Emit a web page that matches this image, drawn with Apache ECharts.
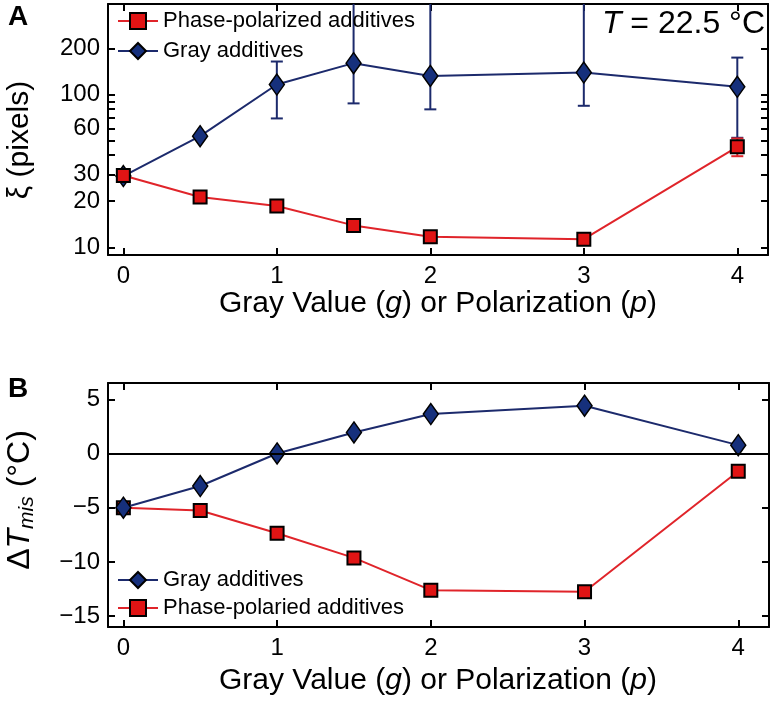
<!DOCTYPE html>
<html>
<head>
<meta charset="utf-8">
<script src="https://cdn.jsdelivr.net/npm/echarts@6/dist/echarts.min.js"></script>
<style>
html,body{margin:0;padding:0;background:#fff;}
#c{width:774px;height:709px;}
</style>
</head>
<body>
<div id="c"></div>
<script>
// ---- Data ----
const xValues = [0, 0.5, 1, 1.5, 2, 3, 4];
// Panel A: correlation length xi (pixels), log scale
const xiPhase = [29.5, 21.3, 18.6, 13.9, 11.7, 11.3, 45.4];
const xiGray = [29.2, 53.3, 116, 160, 132, 139, 112];
// error bars (low, high); null = none
const xiGrayErrLow = [null, null, 69.6, 87.3, 79.8, 84.2, 52];
const xiGrayErrHigh = [null, null, 164, 1000, 1000, 1000, 174];
const xiPhaseErrLow = [null, null, null, null, null, null, 39.4];
const xiPhaseErrHigh = [null, null, null, null, null, null, 51.5];
// Panel B: Delta T_mis (°C)
const dtGray = [-5.0, -3.0, 0.0, 1.94, 3.64, 4.41, 0.77];
const dtPhase = [-5.0, -5.25, -7.35, -9.63, -12.6, -12.75, -1.64];
// Ticks
const xTicks = [0, 1, 2, 3, 4];
const yTicksA = [10, 20, 30, 40, 50, 60, 70, 80, 90, 100, 200];
const yLabelsA = [10, 20, 30, 60, 100, 200];
const yTicksB = [-15, -10, -5, 0, 5];

const BLUE_LINE = '#1c2a6c';
const BLUE_FILL = '#16307c';
const RED_LINE = '#e0242a';
const RED_FILL = '#e01414';
const FONT = 'Liberation Sans, Arial, sans-serif';

const pair = (xs, ys) => xs.map((x, i) => [x, ys[i]]);
const errData = (xs, lo, hi) => xs.map((x, i) => [x, lo[i], hi[i]]).filter(d => d[1] != null);

function errRender(color) {
  return function (params, api) {
    const x = api.value(0), lo = api.value(1), hi = api.value(2);
    const pLo = api.coord([x, lo]);
    const pHi = api.coord([x, hi]);
    const cap = 6;
    const style = { stroke: color, lineWidth: 2, fill: null };
    return {
      type: 'group',
      children: [
        { type: 'line', shape: { x1: pLo[0], y1: pLo[1], x2: pHi[0], y2: pHi[1] }, style },
        { type: 'line', shape: { x1: pLo[0] - cap, y1: pLo[1], x2: pLo[0] + cap, y2: pLo[1] }, style },
        { type: 'line', shape: { x1: pHi[0] - cap, y1: pHi[1], x2: pHi[0] + cap, y2: pHi[1] }, style }
      ]
    };
  };
}

const axisLine = { show: true, onZero: false, lineStyle: { color: '#000', width: 2 } };
const tick = (vals) => ({ show: true, inside: true, length: 7, customValues: vals, lineStyle: { color: '#000', width: 2 } });
const labelStyle = { color: '#000', fontSize: 24, fontFamily: FONT };

const gridA = { left: 108, right: 6, top: 4, height: 251 };
const gridB = { left: 108, right: 5, top: 383, height: 244 };

const xAxisBase = (gi, pos, showLabel) => ({
  type: 'value', gridIndex: gi, position: pos, min: -0.1, max: 4.2,
  axisLine, axisTick: tick(xTicks), splitLine: { show: false },
  axisLabel: Object.assign({ show: showLabel, margin: 9, customValues: xTicks }, labelStyle)
});

const symbolSquare = { symbol: 'rect', symbolSize: 13, itemStyle: { color: RED_FILL, borderColor: '#000', borderWidth: 2 } };
const symbolDiamond = { symbol: 'diamond', symbolSize: [15, 21], itemStyle: { color: BLUE_FILL, borderColor: '#000', borderWidth: 1.5 } };

const legendText = { fontSize: 22, color: '#000', fontFamily: FONT, lineHeight: 22 };

const option = {
  animation: false,
  backgroundColor: '#fff',
  textStyle: { fontFamily: FONT },
  grid: [gridA, gridB],
  xAxis: [
    xAxisBase(0, 'bottom', true),
    xAxisBase(0, 'top', false),
    xAxisBase(1, 'bottom', true),
    xAxisBase(1, 'top', false)
  ],
  yAxis: [
    { type: 'log', gridIndex: 0, position: 'left', min: 8.9, max: 390, logBase: 10,
      axisLine, axisTick: tick(yTicksA), splitLine: { show: false }, minorTick: { show: false },
      axisLabel: Object.assign({ margin: 8, customValues: yLabelsA }, labelStyle) },
    { type: 'log', gridIndex: 0, position: 'right', min: 8.9, max: 390, logBase: 10,
      axisLine, axisTick: tick(yTicksA), splitLine: { show: false },
      axisLabel: { show: false } },
    { type: 'value', gridIndex: 1, position: 'left', min: -16, max: 6.5,
      axisLine, axisTick: tick(yTicksB), splitLine: { show: false },
      axisLabel: Object.assign({ margin: 8, customValues: yTicksB, formatter: v => String(v).replace('-', '\u2212') }, labelStyle) },
    { type: 'value', gridIndex: 1, position: 'right', min: -16, max: 6.5,
      axisLine, axisTick: tick(yTicksB), splitLine: { show: false },
      axisLabel: { show: false } }
  ],
  legend: [
    { left: 112, top: 5, orient: 'vertical', itemWidth: 40, itemHeight: 20, itemGap: 8,
      data: ['Phase-polarized additives', 'Gray additives'],
      textStyle: legendText, selectedMode: false },
    { left: 112, top: 564, orient: 'vertical', itemWidth: 40, itemHeight: 20, itemGap: 6,
      data: ['Gray additives', 'Phase-polaried additives'],
      textStyle: legendText, selectedMode: false }
  ],
  series: [
    { type: 'custom', xAxisIndex: 0, yAxisIndex: 0, renderItem: errRender(BLUE_LINE), clip: true,
      data: errData(xValues, xiGrayErrLow, xiGrayErrHigh), encode: { x: 0, y: [1, 2] }, z: 1 },
    { type: 'custom', xAxisIndex: 0, yAxisIndex: 0, renderItem: errRender(RED_LINE), clip: true,
      data: errData(xValues, xiPhaseErrLow, xiPhaseErrHigh), encode: { x: 0, y: [1, 2] }, z: 1 },
    Object.assign({ type: 'line', name: 'Gray additives', xAxisIndex: 0, yAxisIndex: 0,
      data: pair(xValues, xiGray), lineStyle: { color: BLUE_LINE, width: 2 }, z: 2 }, symbolDiamond),
    Object.assign({ type: 'line', name: 'Phase-polarized additives', xAxisIndex: 0, yAxisIndex: 0,
      data: pair(xValues, xiPhase), lineStyle: { color: RED_LINE, width: 2 }, z: 3 }, symbolSquare),
    Object.assign({ type: 'line', name: 'Phase-polaried additives', xAxisIndex: 2, yAxisIndex: 2,
      data: pair(xValues, dtPhase), lineStyle: { color: RED_LINE, width: 2 }, z: 3,
      markLine: { silent: true, symbol: 'none', label: { show: false },
        lineStyle: { color: '#000', width: 2, type: 'solid' }, data: [{ yAxis: 0 }] } }, symbolSquare),
    Object.assign({ type: 'line', name: 'Gray additives', xAxisIndex: 2, yAxisIndex: 2,
      data: pair(xValues, dtGray), lineStyle: { color: BLUE_LINE, width: 2 }, z: 4 }, symbolDiamond)
  ],
  graphic: [
    { type: 'text', left: 8, top: 3, style: { text: 'A', font: 'bold 28px ' + FONT, fill: '#000' } },
    { type: 'text', left: 8, top: 375, style: { text: 'B', font: 'bold 28px ' + FONT, fill: '#000' } },
    { type: 'text', right: 9, top: 8, style: {
        text: '{i|T} = 22.5 °C', fill: '#000', font: '32px ' + FONT,
        rich: { i: { fontStyle: 'italic', fontSize: 32, fontFamily: FONT } } } },
    { type: 'text', x: 438, y: 304, style: {
        text: 'Gray Value ({i|g}) or Polarization ({i|p})', fill: '#000', font: '30px ' + FONT,
        align: 'center', verticalAlign: 'middle',
        rich: { i: { fontStyle: 'italic', fontSize: 30, fontFamily: FONT } } } },
    { type: 'text', x: 438, y: 681, style: {
        text: 'Gray Value ({i|g}) or Polarization ({i|p})', fill: '#000', font: '30px ' + FONT,
        align: 'center', verticalAlign: 'middle',
        rich: { i: { fontStyle: 'italic', fontSize: 30, fontFamily: FONT } } } },
    { type: 'text', x: 20, y: 140, rotation: Math.PI / 2, style: {
        text: 'ξ (pixels)', fill: '#000', font: '30px ' + FONT, align: 'center', verticalAlign: 'middle' } },
    { type: 'text', x: 20, y: 500, rotation: Math.PI / 2, style: {
        text: 'Δ{t|T}{s|mis} (°C)', fill: '#000', font: '32px ' + FONT, align: 'center', verticalAlign: 'middle',
        rich: {
          t: { fontStyle: 'italic', fontSize: 32, fontFamily: FONT },
          s: { fontStyle: 'italic', fontSize: 21, fontFamily: FONT, verticalAlign: 'bottom', padding: [14, 0, 0, 0] } } } }
  ]
};

const chart = echarts.init(document.getElementById('c'), null, { renderer: 'canvas' });
chart.setOption(option);
</script>
</body>
</html>
